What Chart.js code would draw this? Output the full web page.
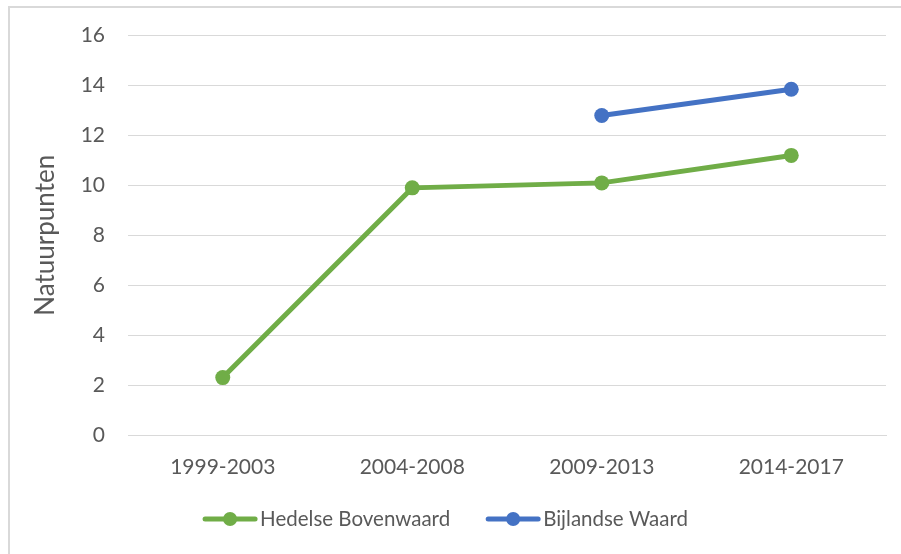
<!DOCTYPE html>
<html lang="nl">
<head>
  <meta charset="UTF-8">
  <title>Natuurpunten per periode</title>
  <script src="https://cdn.jsdelivr.net/npm/chart.js"></script>
  <style>
    html, body {
      margin: 0;
      padding: 0;
      background: #ffffff;
      overflow: hidden;
    }
    .frame {
      position: absolute;
      left: 8px;
      top: 6px;
      width: 1000px;
      height: 1000px;
      border: 2px solid #d9d9d9;
    }
    .chart-box {
      position: absolute;
      left: 0;
      top: 0;
      width: 901px;
      height: 554px;
    }
  </style>
</head>
<body>
  <div class="frame"></div>
  <div class="chart-box">
    <canvas id="puntenChart"></canvas>
  </div>

  <script>
    // Periodes en natuurpunten per uiterwaard
    const periodes = ["1999-2003", "2004-2008", "2009-2013", "2014-2017"];
    const hedelseBovenwaard = [2.3, 9.9, 10.1, 11.2];
    const bijlandseWaard = [null, null, 12.8, 13.85];
    const yTicks = [0, 2, 4, 6, 8, 10, 12, 14, 16];

    const tekstKleur = '#595959';
    const rasterKleur = '#d9d9d9';
    const lettertype = 'Lato, "Open Sans", sans-serif';

    // Legenda onderaan: lijnstuk met punt en label
    const lijnLegenda = {
      id: 'lijnLegenda',
      afterDraw(chart) {
        const ctx = chart.ctx;
        const y = 519;
        const lijn = 54, gatTekst = 3, gatItems = 36;
        ctx.save();
        ctx.font = '20.5px ' + lettertype;
        const items = chart.data.datasets.map(ds => ({
          label: ds.label,
          kleur: ds.borderColor,
          breedte: lijn + gatTekst + ctx.measureText(ds.label).width
        }));
        const totaal = items.reduce((s, it) => s + it.breedte, 0) + gatItems * (items.length - 1);
        let x = chart.width / 2 - 5 - totaal / 2;
        items.forEach(it => {
          ctx.strokeStyle = it.kleur;
          ctx.lineWidth = 5;
          ctx.lineCap = 'round';
          ctx.beginPath();
          ctx.moveTo(x + 2, y);
          ctx.lineTo(x + lijn - 2, y);
          ctx.stroke();
          ctx.fillStyle = it.kleur;
          ctx.beginPath();
          ctx.arc(x + lijn / 2, y, 7, 0, Math.PI * 2);
          ctx.fill();
          ctx.fillStyle = tekstKleur;
          ctx.textAlign = 'left';
          ctx.textBaseline = 'middle';
          ctx.fillText(it.label, x + lijn + gatTekst, y);
          x += it.breedte + gatItems;
        });
        ctx.restore();
      }
    };

    const ctx = document.getElementById('puntenChart').getContext('2d');
    const puntenChart = new Chart(ctx, {
      type: 'line',
      data: {
        labels: periodes,
        datasets: [
          {
            label: 'Hedelse Bovenwaard',
            data: hedelseBovenwaard,
            borderColor: '#70ad47',
            backgroundColor: '#70ad47',
            borderWidth: 5,
            pointRadius: 7.5,
            pointHoverRadius: 7.5,
            pointBorderWidth: 0,
            tension: 0
          },
          {
            label: 'Bijlandse Waard',
            data: bijlandseWaard,
            borderColor: '#4472c4',
            backgroundColor: '#4472c4',
            borderWidth: 5,
            pointRadius: 7.5,
            pointHoverRadius: 7.5,
            pointBorderWidth: 0,
            tension: 0
          }
        ]
      },
      options: {
        responsive: true,
        maintainAspectRatio: false,
        animation: false,
        layout: {
          padding: { top: 35, right: 15, left: 0, bottom: 0 }
        },
        scales: {
          x: {
            offset: true,
            grid: { display: false, drawTicks: false },
            border: { display: true, color: rasterKleur, width: 1 },
            ticks: {
              color: tekstKleur,
              font: { family: lettertype, size: 21 },
              padding: 20,
              maxRotation: 0
            },
            afterFit(scale) { scale.height = 119; }
          },
          y: {
            min: 0,
            max: 16,
            grid: { color: rasterKleur, lineWidth: 1, drawTicks: false },
            border: { display: false },
            afterBuildTicks(scale) {
              scale.ticks = yTicks.map(v => ({ value: v }));
            },
            ticks: {
              color: tekstKleur,
              font: { family: lettertype, size: 21 },
              padding: 23
            },
            title: {
              display: true,
              text: 'Natuurpunten',
              color: tekstKleur,
              font: { family: lettertype, size: 26 },
              padding: { top: 30, bottom: 0 }
            },
            afterFit(scale) { scale.width = 128; }
          }
        },
        plugins: {
          legend: { display: false },
          tooltip: { enabled: false }
        }
      },
      plugins: [lijnLegenda]
    });
  </script>
</body>
</html>
